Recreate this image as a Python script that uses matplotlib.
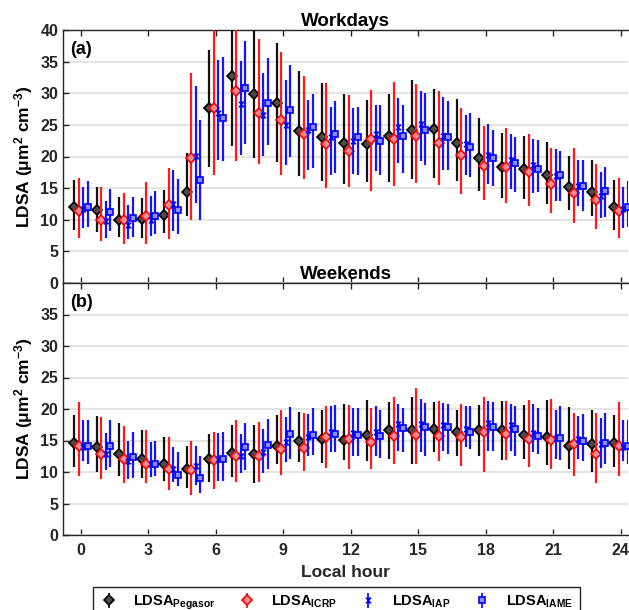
import numpy as np
import matplotlib
matplotlib.use("Agg")
import matplotlib.pyplot as plt
from matplotlib.path import Path

plt.rcParams['font.family'] = ['Liberation Sans', 'DejaVu Sans']
plt.rcParams['font.weight'] = 'bold'
plt.rcParams['mathtext.fontset'] = 'custom'
plt.rcParams['mathtext.rm'] = 'Liberation Sans:bold'
plt.rcParams['mathtext.bf'] = 'Liberation Sans:bold'
plt.rcParams['mathtext.it'] = 'Liberation Sans:bold'

hours = np.arange(25)
xticks = [0, 3, 6, 9, 12, 15, 18, 21, 24]

# ---------------- Workdays ----------------
wd_peg_mean = [12.0, 11.5, 9.9, 10.1, 10.8, 14.4, 27.6, 32.7, 29.9, 28.5, 24.1, 23.1, 22.2, 21.9, 23.2, 24.2, 24.4, 22.2, 19.8, 18.3, 18.0, 17.0, 15.1, 14.4, 12.0]
wd_peg_hi = [16.3, 15.1, 13.6, 13.4, 14.7, 20.6, 36.9, 45.0, 43.0, 37.9, 33.5, 31.6, 29.9, 29.0, 29.9, 32.1, 30.7, 29.1, 26.1, 23.7, 23.2, 22.3, 20.1, 19.4, 16.3]
wd_peg_lo = [8.4, 8.0, 7.3, 7.1, 7.9, 10.6, 18.3, 21.6, 19.8, 19.2, 16.9, 16.2, 15.7, 16.0, 16.0, 16.5, 16.6, 16.2, 14.6, 13.4, 13.3, 12.5, 11.5, 10.6, 8.4]

wd_icrp_mean = [11.4, 10.0, 9.9, 10.6, 12.4, 19.7, 27.6, 30.3, 26.9, 25.7, 23.6, 22.0, 20.9, 22.8, 22.8, 23.2, 22.1, 20.3, 18.5, 18.3, 17.5, 15.7, 14.2, 13.1, 11.4]
wd_icrp_hi = [16.6, 15.2, 14.2, 15.9, 18.2, 33.2, 43.0, 43.0, 38.5, 36.6, 32.8, 31.6, 29.8, 30.5, 31.8, 31.5, 30.3, 27.7, 24.9, 24.5, 23.6, 21.4, 21.4, 18.8, 16.6]
wd_icrp_lo = [7.1, 6.6, 6.2, 6.1, 7.0, 9.9, 17.1, 19.3, 18.8, 17.0, 16.5, 15.0, 15.1, 14.5, 15.3, 15.8, 15.5, 14.1, 13.1, 12.6, 12.1, 11.0, 9.5, 8.5, 7.1]

wd_iap_mean = [11.7, 9.8, 9.2, 10.0, 12.5, 20.1, 26.9, 28.3, 26.6, 25.0, 24.2, 23.1, 22.5, 23.6, 24.7, 25.2, 23.3, 21.9, 20.2, 19.4, 18.6, 16.9, 15.3, 13.7, 11.7]
wd_iap_hi = [15.1, 12.9, 12.3, 13.7, 17.9, 31.2, 35.3, 35.1, 33.2, 32.1, 29.0, 27.9, 27.6, 28.2, 29.2, 30.3, 29.4, 26.6, 25.2, 23.6, 22.8, 21.2, 19.5, 17.5, 15.1]
wd_iap_lo = [8.7, 7.1, 6.9, 7.5, 8.2, 12.7, 19.5, 20.3, 20.1, 18.7, 17.9, 17.1, 17.2, 17.7, 19.0, 19.3, 17.9, 17.1, 15.7, 14.8, 14.2, 13.0, 12.1, 10.3, 8.7]

wd_iame_mean = [12.0, 11.2, 10.2, 10.6, 11.6, 16.3, 26.1, 30.8, 28.5, 27.3, 24.6, 23.6, 23.1, 22.4, 23.3, 24.2, 23.1, 21.5, 19.8, 18.9, 18.0, 17.0, 15.3, 14.5, 12.0]
wd_iame_hi = [16.2, 14.9, 13.6, 14.5, 16.4, 25.7, 35.8, 38.2, 35.5, 34.4, 29.9, 28.8, 27.9, 28.1, 28.1, 30.0, 28.8, 26.9, 24.2, 23.1, 22.6, 20.9, 19.4, 18.3, 16.2]
wd_iame_lo = [8.8, 8.2, 7.3, 7.7, 7.8, 9.9, 19.3, 22.0, 21.8, 20.0, 18.2, 17.4, 17.0, 17.1, 17.4, 18.7, 17.9, 16.7, 15.3, 14.4, 14.4, 12.9, 11.4, 10.4, 8.8]

# ---------------- Weekends ----------------
we_peg_mean = [14.6, 13.9, 12.9, 12.1, 11.2, 10.4, 12.1, 13.0, 12.9, 14.1, 15.0, 15.3, 15.1, 15.9, 16.7, 16.7, 16.9, 16.3, 16.6, 16.7, 15.8, 15.5, 14.1, 14.5, 14.6]
we_peg_hi = [19.1, 18.9, 17.8, 16.7, 15.5, 14.1, 16.1, 17.5, 17.5, 19.1, 19.5, 19.9, 20.8, 21.4, 21.1, 21.9, 21.1, 19.9, 20.6, 21.2, 20.7, 21.4, 20.3, 19.9, 19.1]
we_peg_lo = [10.8, 10.0, 9.3, 9.1, 8.6, 7.5, 8.4, 9.2, 8.3, 11.3, 11.6, 11.4, 11.9, 11.8, 12.1, 11.2, 13.2, 12.5, 12.5, 11.9, 12.0, 11.1, 10.4, 10.0, 10.8]

we_icrp_mean = [14.1, 12.9, 12.0, 11.3, 10.4, 10.3, 11.9, 12.6, 12.5, 13.6, 13.8, 15.6, 15.3, 14.8, 15.7, 15.9, 15.7, 15.6, 16.4, 16.0, 15.2, 15.1, 14.4, 12.8, 14.1]
we_icrp_hi = [21.1, 18.8, 17.3, 16.6, 15.5, 14.9, 16.4, 18.2, 17.9, 19.8, 19.3, 20.5, 20.6, 20.2, 21.9, 23.3, 21.2, 20.8, 21.9, 21.2, 21.4, 21.6, 19.4, 19.4, 21.1]
we_icrp_lo = [9.4, 8.9, 8.3, 8.2, 7.1, 6.4, 7.3, 8.4, 8.4, 9.5, 10.2, 10.7, 10.5, 10.4, 11.2, 11.2, 11.7, 11.0, 10.0, 11.9, 10.8, 10.4, 9.3, 8.3, 9.4]

we_iap_mean = [13.9, 12.9, 11.8, 11.3, 10.4, 11.0, 12.0, 12.5, 13.2, 14.8, 15.5, 16.3, 16.2, 16.3, 17.6, 17.6, 17.4, 16.9, 17.8, 17.5, 16.2, 15.4, 15.3, 14.4, 13.9]
we_iap_hi = [18.2, 16.2, 14.9, 14.8, 14.0, 14.2, 16.2, 16.1, 16.9, 18.7, 19.2, 20.4, 20.1, 20.4, 20.8, 21.6, 20.9, 20.4, 21.3, 20.8, 20.8, 19.9, 18.9, 18.5, 18.2]
we_iap_lo = [11.8, 10.3, 8.9, 9.2, 8.4, 7.9, 8.5, 9.9, 9.8, 11.6, 12.5, 13.2, 12.5, 12.5, 13.4, 13.2, 13.4, 14.0, 13.4, 13.4, 13.2, 12.0, 12.0, 10.7, 11.8]

we_iame_mean = [14.2, 14.1, 12.4, 11.2, 9.5, 9.1, 12.1, 13.9, 14.3, 16.0, 15.8, 16.1, 15.8, 15.7, 17.0, 17.1, 17.1, 16.3, 17.1, 16.8, 15.7, 15.4, 14.9, 14.6, 14.2]
we_iame_hi = [18.3, 18.3, 16.3, 14.9, 13.2, 12.5, 16.4, 17.8, 18.4, 20.3, 20.1, 20.7, 20.2, 19.8, 20.1, 21.0, 20.8, 20.4, 21.1, 20.5, 20.2, 20.5, 19.2, 19.3, 18.3]
we_iame_lo = [11.2, 10.8, 9.0, 9.3, 7.7, 6.7, 8.5, 10.3, 10.4, 12.1, 12.7, 13.2, 12.5, 12.3, 13.2, 12.6, 12.9, 13.7, 13.4, 12.5, 12.8, 11.9, 11.8, 11.2, 11.2]

labels = [r'LDSA$_{\mathrm{Pegasor}}$', r'LDSA$_{\mathrm{ICRP}}$',
          r'LDSA$_{\mathrm{IAP}}$', r'LDSA$_{\mathrm{IAME}}$']

hourglass = Path([(-1, 1), (1, 1), (-1, -1), (1, -1), (-1, 1)],
                 [Path.MOVETO, Path.LINETO, Path.LINETO, Path.LINETO, Path.CLOSEPOLY])

styles = [
    dict(marker='D', ecolor='#111111', mfc='#4a4a4a', mec='#000000', ms=5.0, mew=1.2),
    dict(marker='D', ecolor='#ff1a1a', mfc='#ff8c8c', mec='#ff0000', ms=5.0, mew=1.2),
    dict(marker=hourglass, ecolor='#1414ff', mfc='#0000ff', mec='#0000ff', ms=3.5, mew=0.8),
    dict(marker='s', ecolor='#1414ff', mfc='#8c8cff', mec='#0000ff', ms=4.3, mew=1.2),
]
offsets = [-0.3, -0.1, 0.1, 0.3]

panels = [
    ('Workdays', '(a)', [(wd_peg_mean, wd_peg_lo, wd_peg_hi), (wd_icrp_mean, wd_icrp_lo, wd_icrp_hi),
                         (wd_iap_mean, wd_iap_lo, wd_iap_hi), (wd_iame_mean, wd_iame_lo, wd_iame_hi)],
     np.arange(0, 41, 5)),
    ('Weekends', '(b)', [(we_peg_mean, we_peg_lo, we_peg_hi), (we_icrp_mean, we_icrp_lo, we_icrp_hi),
                         (we_iap_mean, we_iap_lo, we_iap_hi), (we_iame_mean, we_iame_lo, we_iame_hi)],
     np.arange(0, 36, 5)),
]

fig = plt.figure(figsize=(6.29, 6.10), dpi=100)
W, H = 629, 610
axpos = [(63, 30, 628, 283), (63, 283, 628, 535)]
textcol = '#262626'
handles = []
for i, (title, tag, series, yt) in enumerate(panels):
    l, t, r, b = axpos[i]
    ax = fig.add_axes([l / W, 1 - b / H, (r - l) / W, (b - t) / H])
    ax.set_xlim(-0.8, 24.32)
    ax.set_ylim(0, 40)
    for j, (m, lo, hi) in enumerate(series):
        m = np.array(m); lo = np.array(lo); hi = np.array(hi)
        st = styles[j]
        ax.errorbar(hours + offsets[j], m, yerr=[m - lo, hi - m], fmt='none',
                    ecolor=st['ecolor'], elinewidth=1.6, capsize=0, zorder=3 + j)
        ax.plot(hours + offsets[j], m, linestyle='none', marker=st['marker'],
                mfc=st['mfc'], mec=st['mec'], ms=st['ms'], mew=st['mew'], zorder=3.5 + j)
        if i == 0:
            hc = ax.errorbar([np.nan], [np.nan], yerr=[[1], [1]], fmt='',
                             linestyle='none', marker=st['marker'],
                             ecolor=st['ecolor'], elinewidth=1.3, capsize=0,
                             mfc=st['mfc'], mec=st['mec'], ms=st['ms'], mew=st['mew'])
            handles.append(hc)
    ax.set_yticks(yt)
    ax.set_xticks(xticks)
    ax.yaxis.grid(True, color='#e2e2e2', linewidth=1.3, zorder=0)
    ax.set_axisbelow(True)
    ax.tick_params(direction='in', top=True, right=False, length=4, width=1,
                   labelsize=11.5, colors=textcol)
    ax.tick_params(axis='x', pad=6)
    for lab in ax.get_xticklabels() + ax.get_yticklabels():
        lab.set_fontweight('bold')
    for sp in ['left', 'top', 'bottom']:
        ax.spines[sp].set_color(textcol)
        ax.spines[sp].set_linewidth(1.0)
    ax.spines['right'].set_visible(False)
    ax.set_title(title, fontsize=13.5, fontweight='bold', color='#000000', pad=3)
    ax.set_ylabel(r'LDSA (μm$^{\mathrm{2}}$ cm$^{\mathrm{-3}}$)', fontsize=12.5,
                  fontweight='bold', color='#000000', labelpad=4)
    ax.text(0.012, 0.955, tag, transform=ax.transAxes, fontsize=13, fontweight='bold',
            va='top', ha='left', color='#000000')
    if i == 0:
        ax.tick_params(labelbottom=False)
    else:
        ax.set_xlabel('Local hour', fontsize=12.5, fontweight='bold', color=textcol, labelpad=5)

leg = fig.legend(handles, labels, loc='upper center', bbox_to_anchor=(0.535, 1 - 587 / H),
                 bbox_transform=fig.transFigure, ncol=4, fontsize=10.5, frameon=True,
                 fancybox=False, edgecolor='#262626', framealpha=1, handlelength=1.3,
                 columnspacing=1.5, handletextpad=1.0, borderpad=0.45, borderaxespad=0)
leg.get_frame().set_linewidth(1.0)

fig.savefig('out.png', dpi=100)
